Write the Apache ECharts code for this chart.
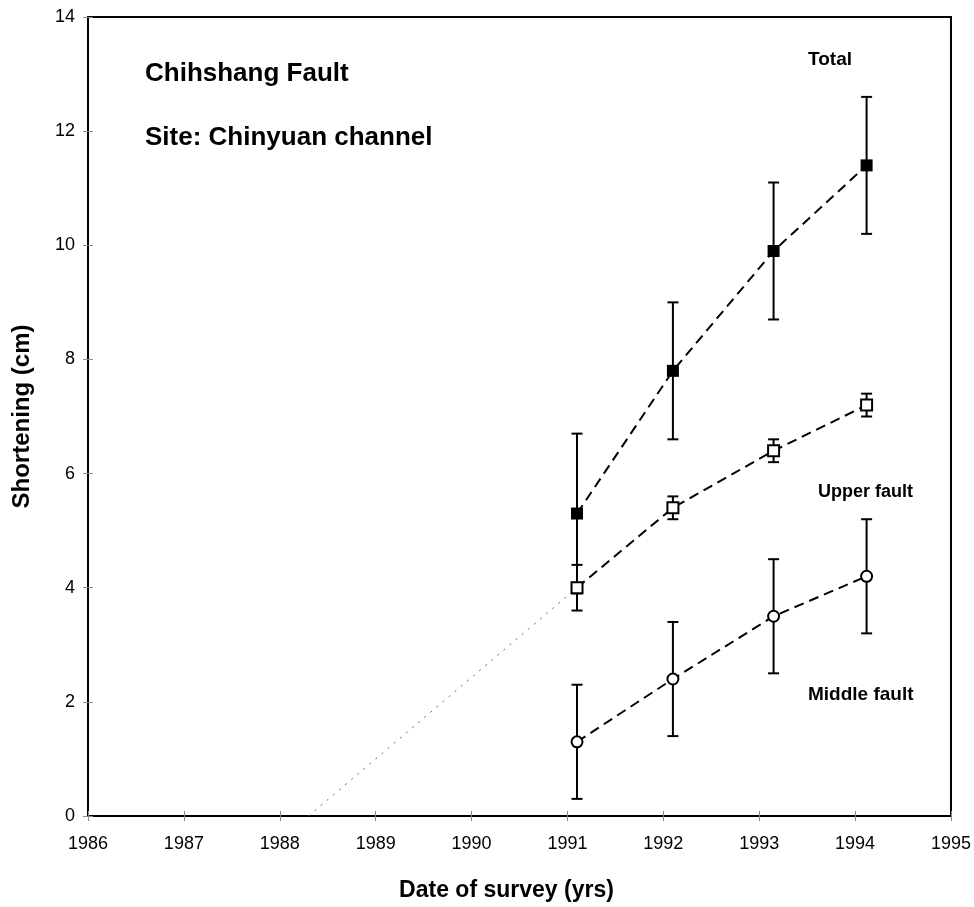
<!DOCTYPE html>
<html>
<head>
<meta charset="utf-8">
<script src="https://cdn.jsdelivr.net/npm/echarts@6/dist/echarts.min.js"></script>
<style>
  html, body { margin: 0; padding: 0; background: #fff; }
  #chart { width: 974px; height: 907px; }
</style>
</head>
<body>
<div id="chart"></div>
<script>
// survey dates (decimal years)
var surveyYears = [1991.1, 1992.1, 1993.15, 1994.12]

// total shortening and its error range
var totalVals = [5.3, 7.8, 9.9, 11.4]
var totalLow = [3.9, 6.6, 8.7, 10.2]
var totalHigh = [6.7, 9.0, 11.1, 12.6]

// upper fault
var upperVals = [4.0, 5.4, 6.4, 7.2]
var upperLow = [3.6, 5.2, 6.2, 7.0]
var upperHigh = [4.4, 5.6, 6.6, 7.4]

// middle fault
var middleVals = [1.3, 2.4, 3.5, 4.2]
var middleLow = [0.3, 1.4, 2.5, 3.2]
var middleHigh = [2.3, 3.4, 4.5, 5.2]

// dotted extrapolation of the upper fault back to zero
var extrapX = [1988.3, 1991.1]
var extrapY = [0, 4.0]

var FONT = '"Liberation Sans", Arial, Helvetica, sans-serif'

function pairs (xs, ys) {
  return xs.map(function (x, i) { return [x, ys[i]] })
}

function errorData (xs, lo, hi) {
  return xs.map(function (x, i) { return [x, lo[i], hi[i]] })
}

function renderError (params, api) {
  var x = api.value(0)
  var lo = api.coord([x, api.value(1)])
  var hi = api.coord([x, api.value(2)])
  var cap = 5.5
  var style = { stroke: '#000', lineWidth: 2 }
  return {
    type: 'group',
    children: [
      { type: 'line', shape: { x1: lo[0], y1: lo[1], x2: hi[0], y2: hi[1] }, style: style },
      { type: 'line', shape: { x1: lo[0] - cap, y1: lo[1], x2: lo[0] + cap, y2: lo[1] }, style: style },
      { type: 'line', shape: { x1: hi[0] - cap, y1: hi[1], x2: hi[0] + cap, y2: hi[1] }, style: style }
    ]
  }
}

function errorSeries (xs, lo, hi) {
  return {
    type: 'custom',
    renderItem: renderError,
    data: errorData(xs, lo, hi),
    encode: { x: 0, y: [1, 2] },
    silent: true,
    z: 1
  }
}

function lineSeries (ys, symbol, size, fill) {
  return {
    type: 'line',
    data: pairs(surveyYears, ys),
    symbol: symbol,
    symbolSize: size,
    showAllSymbol: true,
    lineStyle: { color: '#000', width: 2, type: [10, 6] },
    itemStyle: { color: fill, borderColor: '#000', borderWidth: fill === '#000' ? 0 : 2 },
    silent: true,
    z: 3
  }
}

function label (text, x, y, size) {
  return {
    type: 'text',
    x: x,
    y: y,
    style: { text: text, font: 'bold ' + size + 'px ' + FONT, fill: '#000', verticalAlign: 'middle' }
  }
}

// tick marks that cross the axis: outer ticks on the main axis, inner ones on a bare twin
var tickStyle = { color: '#888', width: 1 }

var chart = echarts.init(document.getElementById('chart'))

chart.setOption({
  animation: false,
  backgroundColor: '#fff',
  grid: {
    left: 88,
    right: 22,
    top: 17,
    bottom: 91,
    show: true,
    borderColor: '#000',
    borderWidth: 2
  },
  xAxis: [
    {
      type: 'value',
      min: 1986,
      max: 1995,
      interval: 1,
      name: 'Date of survey (yrs)',
      nameLocation: 'middle',
      nameGap: 63,
      nameTextStyle: { fontFamily: FONT, fontSize: 23, fontWeight: 'bold', color: '#000', padding: [0, 26, 0, 0] },
      axisLine: { lineStyle: { color: '#000', width: 2 } },
      axisTick: { length: 5, lineStyle: tickStyle },
      axisLabel: { fontFamily: FONT, fontSize: 18, color: '#000', margin: 19, formatter: function (v) { return String(v) } },
      splitLine: { show: false }
    },
    {
      type: 'value',
      min: 1986,
      max: 1995,
      interval: 1,
      position: 'bottom',
      axisLine: { show: false },
      axisTick: { inside: true, length: 5, lineStyle: tickStyle },
      axisLabel: { show: false },
      splitLine: { show: false }
    }
  ],
  yAxis: [
    {
      type: 'value',
      min: 0,
      max: 14,
      interval: 2,
      name: 'Shortening (cm)',
      nameLocation: 'middle',
      nameGap: 54,
      nameRotate: 90,
      nameTextStyle: { fontFamily: FONT, fontSize: 24, fontWeight: 'bold', color: '#000' },
      axisLine: { lineStyle: { color: '#000', width: 2 } },
      axisTick: { length: 5, lineStyle: tickStyle },
      axisLabel: { fontFamily: FONT, fontSize: 18, color: '#000', margin: 13 },
      splitLine: { show: false }
    },
    {
      type: 'value',
      min: 0,
      max: 14,
      interval: 2,
      position: 'left',
      axisLine: { show: false },
      axisTick: { inside: true, length: 5, lineStyle: tickStyle },
      axisLabel: { show: false },
      splitLine: { show: false }
    }
  ],
  graphic: [
    label('Chihshang Fault', 145, 74, 26),
    label('Site: Chinyuan channel', 145, 138, 26),
    label('Total', 808, 60, 19),
    label('Upper fault', 818, 492, 18),
    label('Middle fault', 808, 695, 19)
  ],
  series: [
    {
      type: 'line',
      data: pairs(extrapX, extrapY),
      symbol: 'none',
      lineStyle: { color: '#666', width: 1, type: [2, 6] },
      silent: true,
      z: 1
    },
    errorSeries(surveyYears, totalLow, totalHigh),
    errorSeries(surveyYears, upperLow, upperHigh),
    errorSeries(surveyYears, middleLow, middleHigh),
    lineSeries(totalVals, 'rect', 12, '#000'),
    lineSeries(upperVals, 'rect', 11, '#fff'),
    lineSeries(middleVals, 'circle', 11, '#fff')
  ]
})
</script>
</body>
</html>
